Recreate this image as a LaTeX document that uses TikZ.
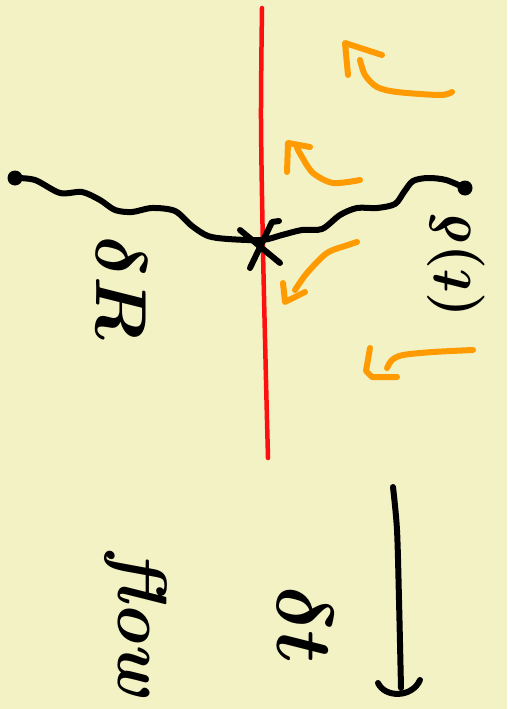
\documentclass[tikz,border=0pt]{standalone}
\definecolor{skPaper}{HTML}{F3F2C5}
\definecolor{skInk}{HTML}{000000}
\definecolor{skCut}{HTML}{FF1010}
\definecolor{skFlow}{HTML}{FF9A00}

\begin{document}
\begin{tikzpicture}[x=1pt,y=-1pt,line cap=round,line join=round,
                    wave/.style={draw=skInk,line width=6pt},
                    cut/.style={draw=skCut,line width=4.5pt},
                    flow/.style={draw=skFlow,line width=6pt},
                    blob/.style={circle,fill=skInk,inner sep=0pt,minimum size=15pt},
                    word/.style={text=skInk,inner sep=0pt,font=\Huge\boldmath}]
  \fill[skPaper] (0,0) rectangle (507,709);
  \useasboundingbox (0,0) rectangle (507,709);
  \draw[cut] plot[smooth] coordinates {(262,8) (261,120) (263,250) (266,380) (268,458)};
  \node[blob] (src) at (15,178) {};
  \node[blob] (snk) at (465,188) {};
  \draw[wave] plot[smooth] coordinates {(src.center) (35,180) (60,193) (82,192) (100,200) (115,210)
    (132,212) (152,208) (175,211) (192,226) (208,236) (228,239) (262,240) (282,235) (302,230)
    (322,229) (340,215) (357,208) (377,208) (395,204) (404,192) (413,181) (428,178) (446,180) (snk.center)};
  \draw[wave] (240,230) -- (280,263) (250,268) -- (272,222) -- (279,221);
  \draw[flow] plot[smooth] coordinates {(452,92) (440,95) (397,92) (377,87) (365,75) (360,60)};
  \draw[flow] (348,75) -- (345,43) -- (382,55);
  \draw[flow] plot[smooth] coordinates {(360,180) (333,183) (313,173) (302,157) (297,148)};
  \draw[flow] (287,172) -- (288,143) -- (310,147);
  \draw[flow] plot[smooth] coordinates {(357,242) (348,245) (327,253) (307,273) (295,290)};
  \draw[flow] (283,283) -- (285,302) -- (305,292);
  \draw[flow] plot[smooth] coordinates {(473,350) (433,352) (403,355) (392,360) (387,368)};
  \draw[flow] (370,348) -- (366,371) -- (372,377) -- (397,377);
  \coordinate (axTop) at (393,487);
  \coordinate (axEnd) at (401,688);
  \draw[wave] plot[smooth] coordinates {(axTop) (397,530) (399,600) (axEnd)};
  \draw[wave] (378,683) .. controls (385,698) and (412,698) .. (420,680);
  \node[word,rotate=-90,scale=2.9] (dR) at (122,288) {$\delta R$};
  \node[word,rotate=90,scale=2.3] (dt) at (456,265) {$(t)\delta$};
  \node[word,rotate=-90,scale=3.2] (dtime) at (305,625) {$\delta t$};
  \node[word,rotate=-90,scale=2.8] (flw) at (136,624) {\bfseries\itshape flow};
\end{tikzpicture}
\end{document}
